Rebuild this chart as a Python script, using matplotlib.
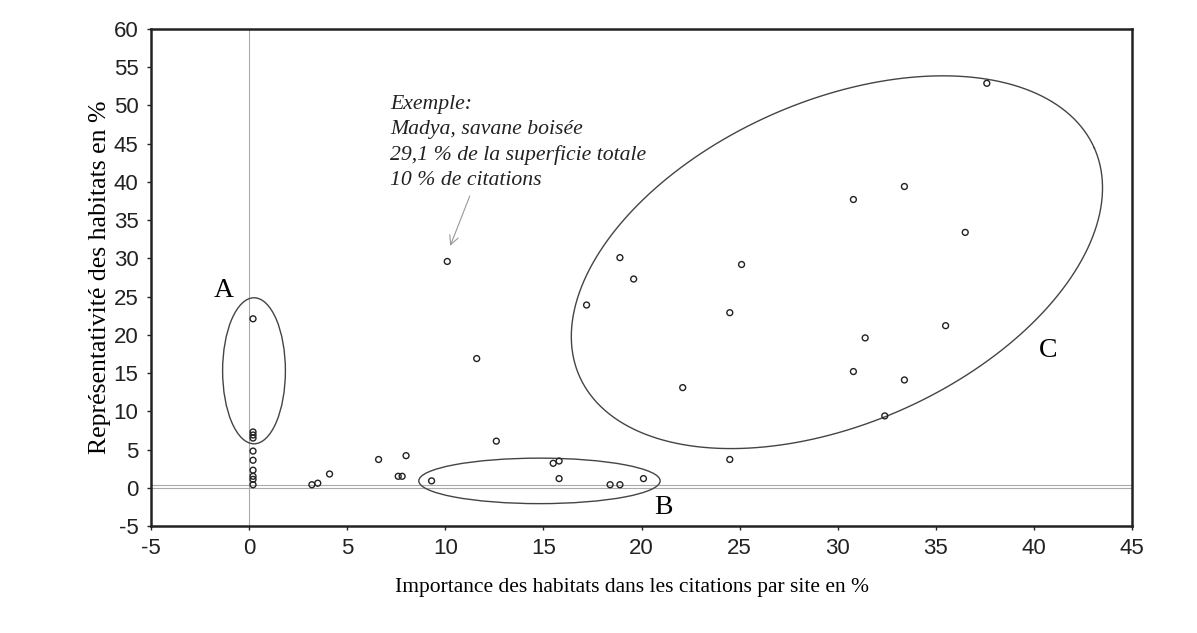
import numpy as np
import matplotlib
matplotlib.use("Agg")
import matplotlib.pyplot as plt
from matplotlib.patches import Ellipse

plt.rcParams["axes.unicode_minus"] = False

# ---------- DATA ----------
citations = [0.2, 0.2, 0.2, 0.2, 0.2, 0.2, 0.2, 0.2, 0.2, 0.2,
             3.2, 3.5, 4.1, 6.6, 7.6, 7.8, 8.0, 9.3, 10.1, 11.6,
             12.6, 15.5, 15.8, 15.8, 18.4, 18.9, 20.1,
             17.2, 18.9, 19.6, 22.1, 24.5, 24.5, 25.1, 30.8, 30.8,
             31.4, 32.4, 33.4, 33.4, 35.5, 36.5, 37.6]
representativite = [22.1, 7.3, 6.9, 6.5, 4.8, 3.6, 2.3, 1.5, 1.1, 0.4,
                    0.4, 0.6, 1.8, 3.7, 1.5, 1.5, 4.2, 0.9, 29.6, 16.9,
                    6.1, 3.2, 3.5, 1.2, 0.4, 0.4, 1.2,
                    23.9, 30.1, 27.3, 13.1, 22.9, 3.7, 29.2, 37.7, 15.2,
                    19.6, 9.4, 39.4, 14.1, 21.2, 33.4, 52.9]

x_ticks = list(range(-5, 50, 5))
y_ticks = list(range(-5, 65, 5))

serif = "Liberation Serif"
sans = "Liberation Sans"

# ---------- FIGURE ----------
fig = plt.figure(figsize=(11.97, 6.33), dpi=100)
ax = fig.add_axes([151 / 1197, 107 / 633, 981 / 1197, 497 / 633])

ax.set_xlim(-5, 45)
ax.set_ylim(-5, 60)
ax.set_xticks(x_ticks)
ax.set_yticks(y_ticks)
ax.tick_params(labelsize=16, length=3, width=1, colors="#222222", pad=6)
for lab in ax.get_xticklabels() + ax.get_yticklabels():
    lab.set_fontfamily(sans)
for sp in ax.spines.values():
    sp.set_linewidth(1.8)
    sp.set_color("#222222")

# reference lines
ax.axvline(0, color="#aaaaaa", lw=0.8, zorder=1)
ax.axhline(0, color="#aaaaaa", lw=0.8, zorder=1)
ax.axhline(0.3, color="#aaaaaa", lw=0.8, zorder=1)

ax.scatter(citations, representativite, s=18, facecolors="none",
           edgecolors="#222222", linewidths=1.0, zorder=3)

# groups A and B
ax.add_patch(Ellipse((0.25, 15.3), 3.2, 19.1, fill=False, ec="#444444", lw=1))
ax.add_patch(Ellipse((14.8, 0.9), 12.3, 5.95, fill=False, ec="#444444", lw=1))

# group C : tilted ellipse defined in screen pixels
px_x = 981 / 50
px_y = 497 / 65
t = np.linspace(0, 2 * np.pi, 400)
a, b, ang = 281.6, 161.2, np.deg2rad(23.9)
ex = a * np.cos(t) * np.cos(ang) - b * np.sin(t) * np.sin(ang)
ey = a * np.cos(t) * np.sin(ang) + b * np.sin(t) * np.cos(ang)
ax.plot(29.96 + ex / px_x, 29.5 + ey / px_y, color="#444444", lw=1)

ax.text(-1.27, 25.8, "A", fontsize=20, family=serif, ha="center", va="center")
ax.text(21.1, -2.6, "B", fontsize=20, family=serif, ha="center", va="center")
ax.text(40.75, 18.0, "C", fontsize=20, family=serif, ha="center", va="center")

ax.text(7.2, 51.4,
        "Exemple:\nMadya, savane boisée\n29,1 % de la superficie totale\n10 % de citations",
        fontsize=15.7, family=serif, style="italic", ha="left", va="top",
        color="#222222", linespacing=1.42)
ax.annotate("", xy=(10.2, 31.3), xytext=(11.3, 38.5),
            arrowprops=dict(arrowstyle="->", color="#999999", lw=0.8,
                            mutation_scale=16))

ax.set_xlabel("Importance des habitats dans les citations par site en %",
              fontsize=15.5, family=serif)
ax.xaxis.set_label_coords(0.49, -0.105)
ax.set_ylabel("Représentativité des habitats en %", fontsize=18.5,
              family=serif, labelpad=2)

fig.savefig("out.png", dpi=100)
